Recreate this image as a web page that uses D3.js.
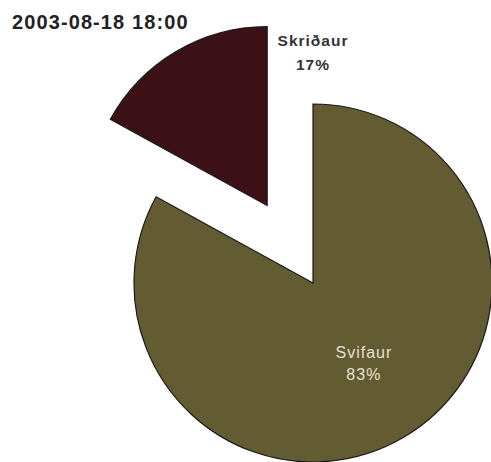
<!DOCTYPE html>
<html>
<head>
<meta charset="utf-8">
<script src="https://cdn.jsdelivr.net/npm/d3@7"></script>
<style>
  body { margin: 0; background: #fff; }
  svg { display: block; font-family: "Liberation Sans", Arial, sans-serif; }
</style>
</head>
<body>
<div id="chart"></div>
<script>
// chart values
var title = "2003-08-18 18:00";
var categories = ["Svifaur", "Skriðaur"];
var percents = [83, 17];
var colors = ["#635b32", "#3b1016"];

var width = 491, height = 462;
var svg = d3.select('#chart').append('svg')
    .attr('width', width)
    .attr('height', height);

svg.append('text')
    .attr('x', 12)
    .attr('y', 29)
    .attr('font-size', 20)
    .attr('font-weight', 'bold')
    .attr('letter-spacing', 1.1)
    .attr('fill', '#222')
    .text(title);

var cx = 313, cy = 283, radius = 179, explode = 90;

var pie = d3.pie().sort(null).value(function(d) { return d.value; });
var arc = d3.arc().innerRadius(0).outerRadius(radius);

var data = categories.map(function(c, i) {
    return { name: c, value: percents[i], color: colors[i] };
});
var arcs = pie(data);

var g = svg.append('g').attr('transform', 'translate(' + cx + ',' + cy + ')');

// pull the small slice out along its middle angle
function offset(d, i) {
    if (i === 0) return [0, 0];
    var a = (d.startAngle + d.endAngle) / 2;
    return [Math.sin(a) * explode, -Math.cos(a) * explode];
}

g.selectAll('path.slice')
    .data(arcs)
    .enter()
    .append('path')
    .classed('slice', true)
    .attr('d', arc)
    .attr('transform', function(d, i) { var o = offset(d, i); return 'translate(' + o[0] + ',' + o[1] + ')'; })
    .attr('fill', function(d) { return d.data.color; })
    .attr('stroke', '#1a1a1a')
    .attr('stroke-width', 1.2);

// labels: big slice inside, small slice outside above
arcs.forEach(function(d, i) {
    var p, lh;
    if (i === 0) {
        var a = (d.startAngle + d.endAngle) / 2;
        p = [Math.sin(a) * 96 + 2, -Math.cos(a) * 96 - 8];
        lh = 22;
    } else {
        p = [Math.sin(d.endAngle) * radius * 1.27, -Math.cos(d.endAngle) * radius * 1.27 - 10];
        lh = 24;
    }
    var t = g.append('text')
        .attr('text-anchor', 'middle')
        .attr('font-size', i === 0 ? 16 : 15.5)
        .attr('font-weight', i === 0 ? 'normal' : 'bold')
        .attr('letter-spacing', 1)
        .attr('fill', i === 0 ? '#e4e1d4' : '#333');
    t.append('tspan').attr('x', p[0]).attr('y', p[1]).text(d.data.name);
    t.append('tspan').attr('x', p[0]).attr('y', p[1] + lh).text(d.data.value + '%');
});
</script>
</body>
</html>
